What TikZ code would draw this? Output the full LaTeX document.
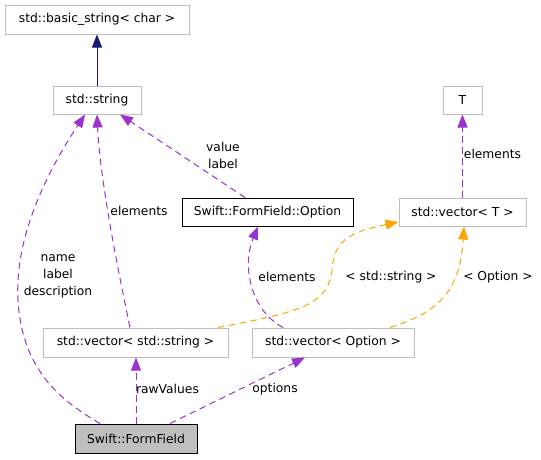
\documentclass[tikz,border=0pt]{standalone}
\usepackage{fontspec}
\setmainfont{DejaVu Sans}
\usetikzlibrary{arrows.meta}
\definecolor{purp}{HTML}{9A32CD}
\definecolor{orng}{HTML}{FFA500}
\definecolor{navyc}{HTML}{191970}
\definecolor{boxgray}{HTML}{BFBFBF}
\tikzset{
  txt/.style={font=\fontsize{12.3}{17}\selectfont},
  box/.style={txt, draw=boxgray, line width=1pt, inner sep=0pt, fill=white},
  mainbox/.style={box, draw=black},
  lbl/.style={txt, inner sep=0pt, align=center},
  tip/.style={-{Triangle[length=13pt,width=10pt]}},
  purpedge/.style={tip, draw=purp, line width=1pt, dash pattern=on 6.5pt off 4.5pt},
  orngedge/.style={tip, draw=orng, line width=1pt, dash pattern=on 6.5pt off 4.5pt},
  navyedge/.style={tip, draw=navyc, line width=1pt}
}
\begin{document}
\begin{tikzpicture}[x=1pt,y=-1pt]
\useasboundingbox (0,0) rectangle (541,459);
% nodes
\node[box, minimum width=184pt, minimum height=29pt] (bs) at (97,19.5) {std::basic\_string< char >};
\node[box, minimum width=88pt, minimum height=28pt] (st) at (97,100) {std::string};
\node[mainbox, minimum width=171pt, minimum height=28pt] (opt) at (267.5,212) {Swift::FormField::Option};
\node[box, minimum width=39pt, minimum height=28pt] (T) at (462.5,100) {T};
\node[box, minimum width=127pt, minimum height=28pt] (vT) at (462.5,212) {std::vector< T >};
\node[box, minimum width=185pt, minimum height=29pt] (vsv) at (135.5,342.5) {std::vector< std::string >};
\node[box, minimum width=162pt, minimum height=29pt] (vo) at (333,342.5) {std::vector< Option >};
\node[mainbox, fill=boxgray, minimum width=122pt, minimum height=29pt] (ff) at (136,438.5) {Swift::FormField};
% labels
\node[lbl] (l1) at (58,276) {name\\label\\description};
\node[lbl] (l2) at (139,211) {elements};
\node[lbl] (l3) at (223,155) {value\\label};
\node[lbl] (l4) at (287,277) {elements};
\node[lbl] (l5) at (492.5,154) {elements};
\node[lbl] (l6) at (167.5,389) {rawValues};
\node[lbl] (l7) at (275,389) {options};
\node[lbl] (l8) at (391,277) {< std::string >};
\node[lbl] (l9) at (498,277) {< Option >};
% edges
\draw[navyedge] (st.north) -- (bs.south);
\draw[purpedge] ([xshift=-36pt]ff.north) .. controls (60,400) and (22,370) .. (18,300)
   .. controls (14,230) and (55,160) .. ([xshift=-12pt]st.south);
\draw[purpedge] ([xshift=-5.5pt]vsv.north) .. controls (118,270) and (100,180) .. (st.south);
\draw[purpedge] ([xshift=-22.5pt]opt.north) -- ([xshift=23pt]st.south);
\draw[purpedge] ([xshift=-50pt]vo.north) .. controls (250,310) and (242,265) .. ([xshift=-9.5pt]opt.south);
\draw[purpedge] (vT.north) -- (T.south);
\draw[purpedge] (ff.north) -- (ff.north |- vsv.south);
\draw[purpedge] ([xshift=34pt]ff.north) -- ([xshift=-28pt]vo.south);
\draw[orngedge] ([xshift=82.5pt]vsv.north) .. controls (300,312) and (328,305) .. (332,270)
   .. controls (334,240) and (350,232) .. ([yshift=-10pt]vT.west);
\draw[orngedge] ([xshift=57pt]vo.north) .. controls (440,312) and (460,290) .. ([xshift=1.5pt]vT.south);
\end{tikzpicture}
\end{document}
